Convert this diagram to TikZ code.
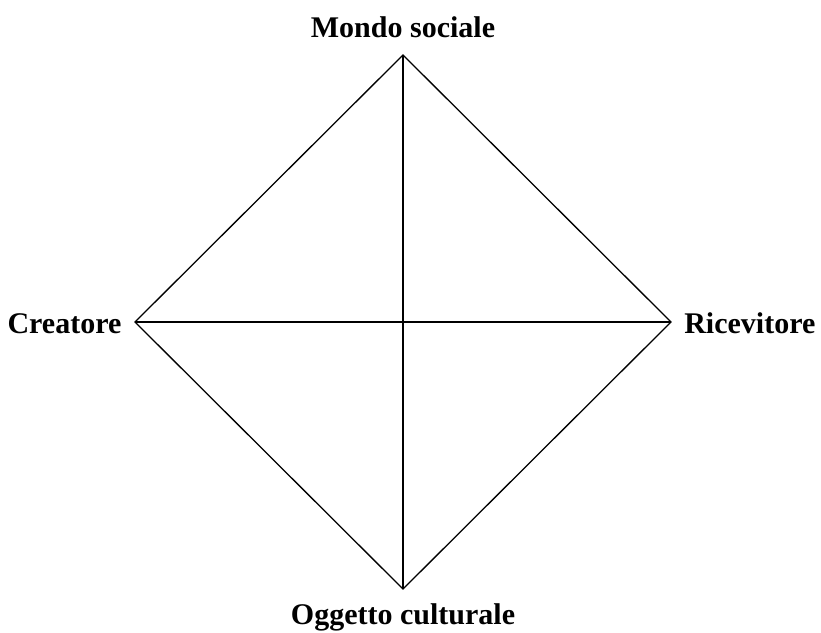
\documentclass[tikz,border=0pt]{standalone}
\usepackage{fontspec}
\setmainfont{Liberation Serif}
\tikzset{lbl/.style={inner sep=0pt, font=\bfseries\fontsize{30}{35}\selectfont}}
\begin{document}
\begin{tikzpicture}[x=1pt, y=1pt, line width=1.3pt]

\useasboundingbox (0,0) rectangle (821,-632); %% page size

\coordinate (mondo) at (403,-55);
\coordinate (ogg) at (403,-589);
\coordinate (crea) at (135,-322);
\coordinate (rice) at (671,-322);

\node[lbl, anchor=base] (mondolbl) at (403,-37) {Mondo sociale};
\node[lbl, anchor=base] (ogglbl) at (403,-624) {Oggetto culturale};
\node[lbl, anchor=base east] (crealbl) at (122,-333) {Creatore};
\node[lbl, anchor=base east] (ricelbl) at (816,-333) {Ricevitore};

\draw (mondo) -- (rice) -- (ogg) -- (crea) -- cycle;
\draw (mondo) -- (ogg);
\draw (crea) -- (rice);

\end{tikzpicture}
\end{document}
